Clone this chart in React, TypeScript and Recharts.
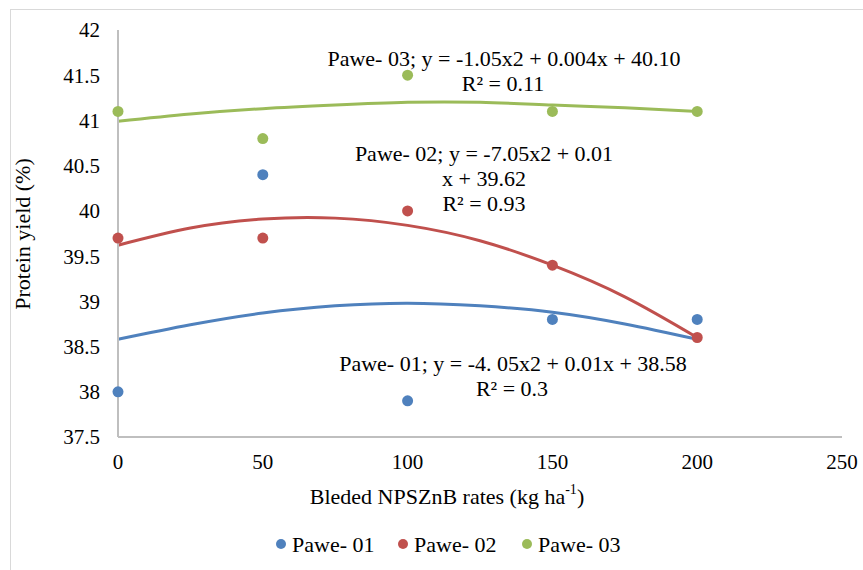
import React from "react";
import {
  ComposedChart,
  Scatter,
  Line,
  XAxis,
  YAxis,
} from "recharts";

// observed protein yield at each NPSZnB rate
const rates = [0, 50, 100, 150, 200];
const pawe01 = [38.0, 40.4, 37.9, 38.8, 38.8];
const pawe02 = [39.7, 39.7, 40.0, 39.4, 38.6];
const pawe03 = [41.1, 40.8, 41.5, 41.1, 41.1];

// polynomial trendlines
const trendRates = [0, 25, 50, 75, 100, 125, 150, 175, 200];
const trend01 = [38.58, 38.74, 38.87, 38.95, 38.98, 38.95, 38.88, 38.75, 38.58];
const trend02 = [39.62, 39.81, 39.91, 39.92, 39.84, 39.67, 39.4, 39.05, 38.6];
const trend03 = [40.99, 41.07, 41.13, 41.17, 41.2, 41.2, 41.17, 41.14, 41.1];

const xTicks = [0, 50, 100, 150, 200, 250];
const yTicks = [37.5, 38, 38.5, 39, 39.5, 40, 40.5, 41, 41.5, 42];

const seriesNames = ["Pawe- 01", "Pawe- 02", "Pawe- 03"];
const colors = ["#4f81bd", "#c0504d", "#9bbb59"];

const toPoints = (xs: number[], ys: number[]) =>
  xs.map((x, i) => ({ x, y: ys[i] }));

const points = [pawe01, pawe02, pawe03].map((ys) => toPoints(rates, ys));
const trends = [trend01, trend02, trend03].map((ys) => toPoints(trendRates, ys));

const FONT = "Liberation Serif";

export default function App() {
  const tickStyle = {
    fill: "#000",
    fontSize: 21,
    fontFamily: FONT,
    style: { fontFamily: FONT },
  };

  return (
    <div
      style={{
        position: "absolute",
        left: 0,
        top: 0,
        width: 863,
        height: 570,
        background: "#fff",
        overflow: "hidden",
        fontFamily: FONT,
      }}
    >
      <ComposedChart
        width={863}
        height={570}
        margin={{ top: 30, right: 21, left: 58, bottom: 103 }}
        style={{ fontFamily: FONT }}
      >
        <XAxis
          type="number"
          dataKey="x"
          domain={[0, 250]}
          ticks={xTicks}
          height={30}
          stroke="#bfbfbf"
          strokeWidth={2}
          tickLine={false}
          tickSize={0}
          tickMargin={17}
          tick={tickStyle}
        />
        <YAxis
          type="number"
          dataKey="y"
          domain={[37.5, 42]}
          ticks={yTicks}
          width={60}
          stroke="#bfbfbf"
          strokeWidth={2}
          tickLine={false}
          tickSize={0}
          tickMargin={18}
          tick={tickStyle}
        />
        {trends.map((d, i) => (
          <Line
            key={"t" + i}
            data={d}
            dataKey="y"
            type="natural"
            stroke={colors[i]}
            strokeWidth={3}
            dot={false}
            activeDot={false}
            isAnimationActive={false}
          />
        ))}
        {points.map((d, i) => (
          <Scatter
            key={"s" + i}
            name={seriesNames[i]}
            data={d}
            dataKey="y"
            fill={colors[i]}
            shape={(p: any) => (
              <circle cx={p.cx} cy={p.cy} r={5.5} fill={colors[i]} />
            )}
            isAnimationActive={false}
          />
        ))}
      </ComposedChart>

      <svg
        width={863}
        height={570}
        style={{
          position: "absolute",
          left: 0,
          top: 0,
          pointerEvents: "none",
          fontFamily: FONT,
        }}
        fontSize={22}
      >
        {/* chart frame */}
        <line x1={10} y1={9.5} x2={863} y2={9.5} stroke="#d9d9d9" />
        <line x1={10.5} y1={9} x2={10.5} y2={570} stroke="#d9d9d9" />

        {/* trendline equations */}
        <g textAnchor="middle" dominantBaseline="central" fill="#000">
          <text x={504} y={58}>Pawe- 03; y = -1.05x2 + 0.004x + 40.10</text>
          <text x={503} y={83}>R² = 0.11</text>
          <text x={484} y={153}>Pawe- 02; y = -7.05x2 + 0.01</text>
          <text x={484} y={178}>x + 39.62</text>
          <text x={484} y={203}>R² = 0.93</text>
          <text x={513} y={363}>Pawe- 01; y = -4. 05x2 + 0.01x + 38.58</text>
          <text x={512} y={388}>R² = 0.3</text>
        </g>

        {/* axis titles */}
        <text
          x={22}
          y={234}
          textAnchor="middle"
          dominantBaseline="central"
          transform="rotate(-90 22 234)"
        >
          Protein yield (%)
        </text>
        <text x={447} y={496} textAnchor="middle" dominantBaseline="central">
          <tspan>Bleded NPSZnB rates (kg ha</tspan>
          <tspan dy={-7} fontSize={14}>-1</tspan>
          <tspan dy={7}>)</tspan>
        </text>

        {/* legend */}
        {seriesNames.map((name, i) => {
          const lx = [281, 403, 527][i];
          return (
            <g key={name}>
              <circle cx={lx} cy={544} r={5} fill={colors[i]} />
              <text x={lx + 11} y={544} dominantBaseline="central">
                {name}
              </text>
            </g>
          );
        })}
      </svg>
    </div>
  );
}
